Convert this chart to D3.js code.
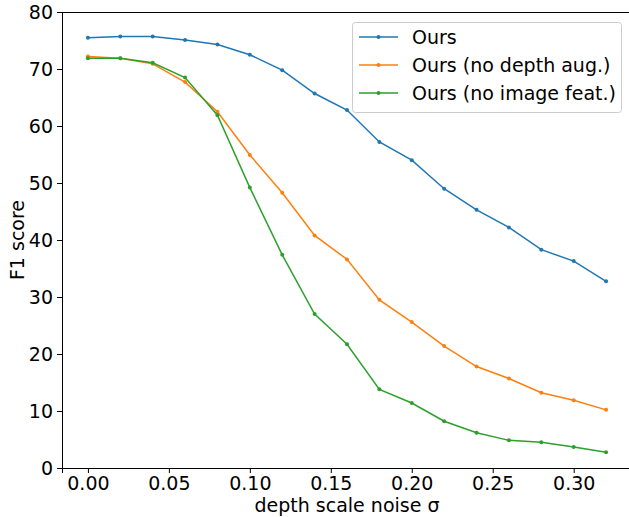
<!DOCTYPE html>
<html><head><meta charset="utf-8">
<script src="https://cdn.jsdelivr.net/npm/d3@7"></script>
<style>body{margin:0;background:#fff}svg{display:block;overflow:hidden}text{font-family:"DejaVu Sans",sans-serif;fill:#000}</style>
</head><body>
<script>
const xs = [0,0.02,0.04,0.06,0.08,0.10,0.12,0.14,0.16,0.18,0.20,0.22,0.24,0.26,0.28,0.30,0.32];
const ours = [75.5,75.7,75.7,75.1,74.3,72.5,69.8,65.7,62.8,57.2,54.0,49.0,45.3,42.2,38.3,36.3,32.75];
const noDepthAug = [72.2,71.9,70.9,67.7,62.5,54.9,48.3,40.8,36.6,29.5,25.6,21.4,17.8,15.7,13.2,11.9,10.2];
const noImageFeat = [71.9,71.9,71.1,68.5,61.9,49.2,37.4,27.0,21.7,13.8,11.4,8.2,6.2,4.85,4.5,3.7,2.75];
const seriesNames = ["Ours","Ours (no depth aug.)","Ours (no image feat.)"];
const colors = ["#1f77b4","#ff7f0e","#2ca02c"];
const xTicks = [0,0.05,0.10,0.15,0.20,0.25,0.30];
const yTicks = [0,10,20,30,40,50,60,70,80];

const W=629,H=517;
const svg=d3.select("body").append("svg").attr("width",W).attr("height",H);
const x=d3.scaleLinear().domain([-0.016,0.336]).range([62,632]);
const y=d3.scaleLinear().domain([0,80]).range([468,12]);

const fs=19;
const xa=svg.append("g").attr("transform","translate(0,468)")
  .call(d3.axisBottom(x).tickValues(xTicks).tickFormat(d3.format(".2f")).tickSizeOuter(0).tickSize(5).tickPadding(4));
const ya=svg.append("g").attr("transform","translate(62,0)")
  .call(d3.axisLeft(y).tickValues(yTicks).tickFormat(d3.format("d")).tickSizeOuter(0).tickSize(5).tickPadding(4));
[xa,ya].forEach(g=>{g.selectAll("text").style("font-size",fs+"px").style("font-family","DejaVu Sans");
  g.selectAll("line,path").attr("stroke","#000").attr("stroke-width",1);});
ya.selectAll(".tick text").attr("dy","0.35em");
svg.append("line").attr("x1",62).attr("x2",632).attr("y1",y(80)+0.5).attr("y2",y(80)+0.5).attr("stroke","#000");

const series=[ours,noDepthAug,noImageFeat];
const line=d3.line().x((d,i)=>x(xs[i])).y(d=>y(d));
series.forEach((s,k)=>{
  svg.append("path").datum(s).attr("d",line).attr("fill","none").attr("stroke",colors[k]).attr("stroke-width",1.5);
  svg.selectAll(null).data(s).enter().append("circle").attr("cx",(d,i)=>x(xs[i])).attr("cy",d=>y(d)).attr("r",2).attr("fill",colors[k]);
});

const lg=svg.append("g");
lg.append("rect").attr("x",352.5).attr("y",22.5).attr("width",269).attr("height",90).attr("rx",3)
  .attr("fill","#fff").attr("fill-opacity",0.8).attr("stroke","#ccc");
seriesNames.forEach((n,k)=>{
  const yy=37+k*28;
  lg.append("line").attr("x1",359).attr("x2",398).attr("y1",yy).attr("y2",yy).attr("stroke",colors[k]).attr("stroke-width",1.5);
  lg.append("circle").attr("cx",378.5).attr("cy",yy).attr("r",2).attr("fill",colors[k]);
  lg.append("text").attr("x",412).attr("y",yy).attr("dy","0.35em").style("font-size",fs+"px").text(n);
});

svg.append("text").attr("x",347).attr("y",512).attr("text-anchor","middle").style("font-size",fs+"px").text("depth scale noise σ");
svg.append("text").attr("transform","translate(24,240) rotate(-90)").attr("text-anchor","middle").style("font-size",fs+"px").text("F1 score");
</script>
</body></html>
